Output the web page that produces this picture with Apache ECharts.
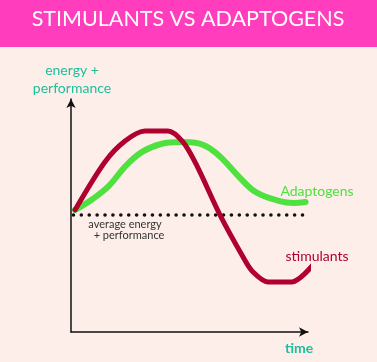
<!DOCTYPE html>
<html><head><meta charset="utf-8">
<script src="https://cdn.jsdelivr.net/npm/echarts@6/dist/echarts.min.js"></script>
<style>html,body{margin:0;padding:0;background:#fdeee9;}#c{width:377px;height:362px;}</style>
</head><body><div id="c"></div>
<script>
// time (0-100) vs energy+performance (0-100)
const adaptogensX = [1.7, 9, 16, 23, 30, 38, 46, 53, 59, 64, 71, 78, 88, 94, 99];
const adaptogensY = [52.4, 57, 62.7, 71.2, 77.3, 80.7, 81.5, 81.1, 78.5, 74.2, 66.5, 60, 56.2, 55.4, 55.8];
const stimulantsX = [1.7, 14.3, 22.8, 31.2, 40.9, 47.3, 53.2, 62.9, 72.6, 76.4, 83.1, 93.2, 102.1];
const stimulantsY = [52.4, 73.0, 82.0, 86.3, 86.3, 81.5, 71.2, 50.2, 32.2, 26.2, 21.5, 21.5, 28.8];
const averageX = [1, 100];
const averageY = [50.2, 50.2];
const titleText = 'STIMULANTS VS ADAPTOGENS';

const chart = echarts.init(document.getElementById('c'), null, {renderer: 'canvas'});
const zip = (xs, ys) => xs.map((x, i) => [x, ys[i]]);
const teal = '#1dbf9b';
chart.setOption({
  backgroundColor: '#fdeee9',
  animation: false,
  grid: {left: 71, top: 99, right: 69, bottom: 30},
  xAxis: {type: 'value', min: 0, max: 100, splitLine: {show: false}, axisTick: {show: false}, axisLabel: {show: false},
    axisLine: {show: true, lineStyle: {color: '#111', width: 1.5}, symbol: ['none', 'arrow'], symbolSize: [7, 9]}},
  yAxis: {type: 'value', min: 0, max: 100, splitLine: {show: false}, axisTick: {show: false}, axisLabel: {show: false},
    axisLine: {show: true, lineStyle: {color: '#111', width: 1.5}, symbol: ['none', 'arrow'], symbolSize: [7, 9]}},
  series: [
    {type: 'line', data: zip(averageX, averageY), showSymbol: false, lineStyle: {color: '#111', width: 3.5, type: [0.1, 7.8], cap: 'round'}, z: 1},
    {type: 'line', name: 'Adaptogens', data: zip(adaptogensX, adaptogensY), smooth: 0.4, showSymbol: false, lineStyle: {color: '#4fe13f', width: 6, cap: 'round'}, z: 2},
    {type: 'line', name: 'stimulants', data: zip(stimulantsX, stimulantsY), smooth: 0.3, clip: false, showSymbol: false, lineStyle: {color: '#b0002f', width: 5, cap: 'round', join: 'round'}, z: 3}
  ],
  graphic: [
    {type: 'rect', shape: {x: 0, y: 0, width: 377, height: 47}, style: {fill: '#ff3dbd'}, z: 10},
    {type: 'text', x: 188, y: 19, z: 11, style: {text: titleText, fill: '#fff', font: '21.5px Lato', textAlign: 'center', textVerticalAlign: 'middle'}},
    {type: 'text', x: 72, y: 70, style: {text: 'energy +', fill: teal, font: '14px Lato', textAlign: 'center', textVerticalAlign: 'middle'}},
    {type: 'text', x: 72, y: 88, style: {text: 'performance', fill: teal, font: '14px Lato', textAlign: 'center', textVerticalAlign: 'middle'}},
    {type: 'text', x: 299, y: 348, style: {text: 'time', fill: teal, font: 'bold 14px Lato', textAlign: 'center', textVerticalAlign: 'middle'}},
    {type: 'text', x: 317, y: 191, style: {text: 'Adaptogens', fill: '#4fe13f', font: '14px Lato', textAlign: 'center', textVerticalAlign: 'middle'}},
    {type: 'text', x: 317, y: 256, style: {text: 'stimulants', fill: '#b0002f', font: '14px Lato', textAlign: 'center', textVerticalAlign: 'middle'}},
    {type: 'text', x: 125, y: 224, style: {text: 'average energy', fill: '#333', font: '11px Lato', textAlign: 'center', textVerticalAlign: 'middle'}},
    {type: 'text', x: 129, y: 235, style: {text: '+ performance', fill: '#333', font: '11px Lato', textAlign: 'center', textVerticalAlign: 'middle'}}
  ]
});
</script></body></html>
